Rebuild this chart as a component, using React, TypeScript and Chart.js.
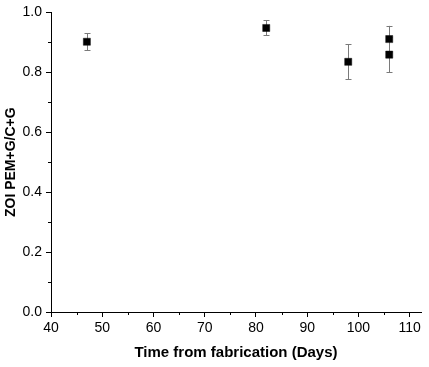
import { useEffect, useRef } from 'react';
import { Chart, registerables } from 'chart.js';

Chart.register(...registerables);

const days = [47, 82, 98, 106, 106];
const zoi = [0.902, 0.948, 0.835, 0.911, 0.859];
const zoiErr = [0.028, 0.025, 0.058, 0.044, 0.059];
const xTicks = [40, 50, 60, 70, 80, 90, 100, 110];
const xMinor = [45, 55, 65, 75, 85, 95, 105];
const yMinor = [0.1, 0.3, 0.5, 0.7, 0.9];

const FONT = "'Liberation Sans', Arial, sans-serif";

const errorBarPlugin = {
  id: 'errorBars',
  beforeDatasetsDraw(chart: any) {
    const ctx = chart.ctx;
    const xs = chart.scales.x;
    const ys = chart.scales.y;
    ctx.save();
    ctx.strokeStyle = '#7a7a7a';
    ctx.lineWidth = 1;
    days.forEach((d, i) => {
      const px = Math.round(xs.getPixelForValue(d)) + 0.5;
      const top = ys.getPixelForValue(zoi[i] + zoiErr[i]);
      const bot = ys.getPixelForValue(zoi[i] - zoiErr[i]);
      ctx.beginPath();
      ctx.moveTo(px, top);
      ctx.lineTo(px, bot);
      ctx.moveTo(px - 3, Math.round(top) + 0.5);
      ctx.lineTo(px + 3, Math.round(top) + 0.5);
      ctx.moveTo(px - 3, Math.round(bot) + 0.5);
      ctx.lineTo(px + 3, Math.round(bot) + 0.5);
      ctx.stroke();
    });
    ctx.restore();
  },
};

const minorTickPlugin = {
  id: 'minorTicks',
  afterDraw(chart: any) {
    const ctx = chart.ctx;
    const xs = chart.scales.x;
    const ys = chart.scales.y;
    const area = chart.chartArea;
    ctx.save();
    ctx.strokeStyle = '#000';
    ctx.lineWidth = 1;
    ctx.beginPath();
    xMinor.forEach((v) => {
      const px = Math.round(xs.getPixelForValue(v)) + 0.5;
      ctx.moveTo(px, area.bottom);
      ctx.lineTo(px, area.bottom + 3);
    });
    yMinor.forEach((v) => {
      const py = Math.round(ys.getPixelForValue(v)) + 0.5;
      ctx.moveTo(area.left, py);
      ctx.lineTo(area.left - 3, py);
    });
    ctx.stroke();
    ctx.restore();
  },
};

export default function App() {
  const ref = useRef<HTMLCanvasElement | null>(null);
  useEffect(() => {
    if (!ref.current) return;
    const chart = new Chart(ref.current, {
      type: 'scatter',
      data: {
        datasets: [
          {
            label: 'ZOI',
            data: days.map((d, i) => ({ x: d, y: zoi[i] })),
            pointStyle: 'rect',
            pointRadius: 5,
            pointBackgroundColor: '#000',
            pointBorderColor: '#111',
            pointBorderWidth: 0.5,
          },
        ],
      },
      options: {
        animation: false,
        responsive: true,
        maintainAspectRatio: false,
        layout: { padding: { left: 0, top: 11, right: 8, bottom: 0 } },
        plugins: { legend: { display: false }, tooltip: { enabled: false } },
        scales: {
          x: {
            type: 'linear',
            min: 40,
            max: 112.2,
            afterBuildTicks: (s: any) => {
              s.ticks = xTicks.map((v) => ({ value: v }));
            },
            afterFit: (s: any) => {
              s.height = 55;
            },
            grid: { display: true, drawOnChartArea: false, drawTicks: true, tickLength: 5, color: '#000' },
            border: { display: true, color: '#000', width: 1 },
            ticks: { color: '#000', font: { family: FONT, size: 14 }, padding: 3, maxRotation: 0 },
            title: {
              display: true,
              text: 'Time from fabrication (Days)',
              color: '#000',
              font: { family: FONT, size: 15, weight: 'bold' },
              padding: { top: 0, bottom: 5 },
            },
          },
          y: {
            type: 'linear',
            min: 0,
            max: 1,
            ticks: {
              stepSize: 0.2,
              color: '#000',
              font: { family: FONT, size: 14 },
              padding: 4,
              callback: (v: any) => Number(v).toFixed(1),
            },
            afterFit: (s: any) => {
              s.width = 51;
            },
            grid: { display: true, drawOnChartArea: false, drawTicks: true, tickLength: 5, color: '#000' },
            border: { display: true, color: '#000', width: 1 },
            title: {
              display: true,
              text: 'ZOI PEM+G/C+G',
              color: '#000',
              font: { family: FONT, size: 14, weight: 'bold' },
              padding: { top: 2.5, bottom: 0 },
            },
          },
        },
      },
      plugins: [errorBarPlugin, minorTickPlugin],
    });
    return () => chart.destroy();
  }, []);
  return (
    <div style={{ position: 'fixed', left: 0, top: 0, width: 429, height: 367, background: '#fff' }}>
      <canvas ref={ref} />
    </div>
  );
}
